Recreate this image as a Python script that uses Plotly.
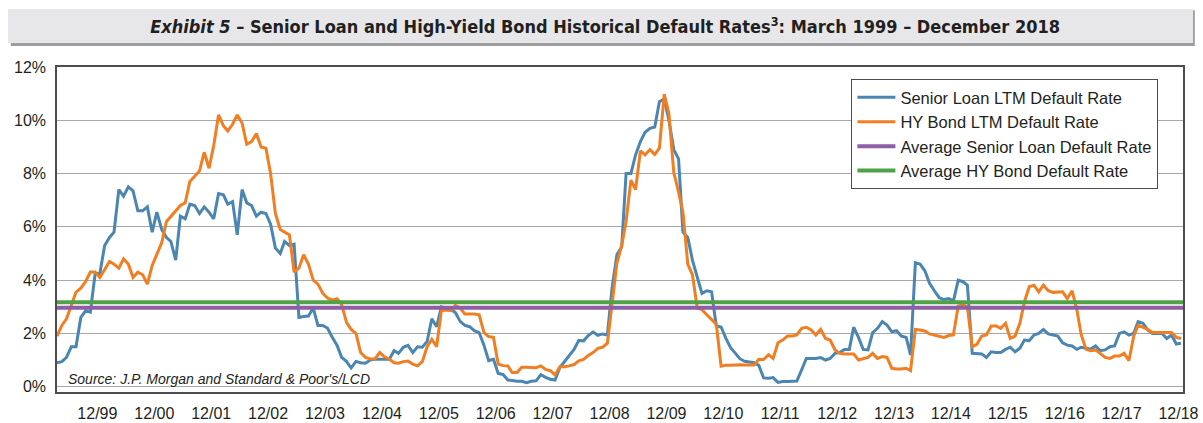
import pandas as pd
import plotly.graph_objects as go

# ---------------- data (monthly, Mar 1999 - Dec 2018), percent ----------------
start_month = "1999-03-01"
n_months = 238

senior_loan = [
    # 1999 (Mar-Dec)
    0.9, 0.94, 1.1, 1.5, 1.5, 2.6, 2.85, 2.8, 4.25, 4.25,
    # 2000
    5.3, 5.6, 5.8, 7.4, 7.15, 7.5, 7.35, 6.6, 6.6, 6.75, 5.8, 6.55,
    # 2001
    5.9, 5.6, 5.45, 4.75, 6.4, 6.3, 6.85, 6.8, 6.5, 6.75, 6.55, 6.3,
    # 2002
    7.25, 7.2, 6.85, 6.95, 5.7, 7.4, 6.9, 6.8, 6.4, 6.55, 6.5, 6.1,
    # 2003
    5.2, 5.0, 5.45, 5.3, 5.35, 2.6, 2.63, 2.65, 2.95, 2.3, 2.3, 2.2,
    # 2004
    1.85, 1.55, 1.1, 0.95, 0.7, 0.95, 0.9, 0.88, 1.0, 1.03, 1.03, 1.03,
    # 2005
    1.03, 1.35, 1.25, 1.48, 1.55, 1.28, 1.5, 1.48, 1.7, 2.55, 2.25, 3.0,
    # 2006
    2.95, 2.9, 2.78, 2.45, 2.3, 2.25, 2.1, 2.03, 1.55, 0.98, 1.03, 0.5,
    # 2007
    0.46, 0.25, 0.23, 0.2, 0.2, 0.15, 0.2, 0.22, 0.45, 0.35, 0.28, 0.25,
    # 2008
    0.72, 0.95, 1.15, 1.4, 1.73, 1.72, 1.92, 2.05, 1.93, 1.98, 1.94, 3.7,
    # 2009
    4.95, 5.25, 8.0, 8.0, 8.7, 9.2, 9.55, 9.7, 9.75, 10.7, 10.8, 10.0,
    # 2010
    8.9, 8.55, 5.8, 5.6, 4.75, 4.1, 3.5, 3.6, 3.56, 2.28, 2.24, 1.82,
    # 2011
    1.46, 1.25, 1.05, 0.95, 0.92, 0.9, 0.8, 0.33, 0.32, 0.34, 0.16, 0.19,
    # 2012
    0.19, 0.21, 0.21, 0.63, 1.06, 1.06, 1.06, 1.09, 1.0, 1.06, 1.25, 1.28,
    # 2013
    1.4, 1.4, 2.23, 1.85, 1.4, 1.38, 2.03, 2.19, 2.44, 2.31, 2.06, 2.1,
    # 2014
    1.9, 1.85, 1.19, 4.65, 4.6, 4.35, 3.88, 3.6, 3.34, 3.27, 3.31, 3.21,
    # 2015
    4.0, 3.94, 3.81, 1.25, 1.25, 1.23, 1.1, 1.31, 1.28, 1.28, 1.4, 1.48,
    # 2016
    1.31, 1.44, 1.75, 1.73, 1.94, 2.0, 2.15, 1.98, 1.94, 1.9, 1.65, 1.56,
    # 2017
    1.53, 1.4, 1.48, 1.44, 1.41, 1.53, 1.35, 1.38, 1.5, 1.53, 2.0, 2.06,
    # 2018
    1.94, 2.0, 2.44, 2.38, 2.13, 2.0, 2.0, 2.0, 1.81, 1.94, 1.6, 1.63,
]

hy_bond = [
    # 1999 (Mar-Dec)
    1.9, 2.3, 2.55, 3.05, 3.55, 3.7, 3.95, 4.3, 4.3, 4.1,
    # 2000
    4.4, 4.7, 4.6, 4.45, 4.8, 4.6, 4.1, 4.3, 4.2, 3.85, 4.55, 5.0,
    # 2001
    5.4, 6.2, 6.4, 6.6, 6.8, 6.9, 7.7, 7.9, 8.1, 8.8, 8.2, 9.05,
    # 2002
    10.2, 9.8, 9.6, 9.85, 10.2, 9.9, 9.1, 9.2, 9.5, 9.0, 8.95, 8.0,
    # 2003
    6.5, 5.9, 5.8, 5.7, 4.3, 4.45, 4.95, 4.6, 4.0, 3.85, 3.5, 3.33,
    # 2004
    3.25, 3.3, 3.08, 2.42, 2.15, 2.0, 1.28, 1.1, 1.04, 1.04, 1.28, 1.12,
    # 2005
    1.04, 0.9, 0.88, 0.94, 0.96, 0.85, 0.78, 0.94, 1.5, 1.78, 1.5, 2.85,
    # 2006
    2.88, 2.85, 3.05, 2.95, 2.73, 2.73, 2.73, 2.7, 2.03, 1.88, 1.85, 0.85,
    # 2007
    0.79, 0.78, 0.53, 0.53, 0.73, 0.73, 0.73, 0.71, 0.78, 0.65, 0.6, 0.44,
    # 2008
    0.75, 0.75, 0.78, 0.83, 0.97, 1.02, 1.17, 1.28, 1.44, 1.48, 1.63, 3.0,
    # 2009
    4.63, 5.3, 6.2, 7.75, 7.4, 8.85, 8.7, 8.9, 8.72, 8.95, 10.98, 10.25,
    # 2010
    8.05, 7.3, 6.55, 4.6, 4.2, 2.95, 2.89, 2.7, 2.52, 2.35, 0.77, 0.8,
    # 2011
    0.8, 0.82, 0.82, 0.81, 0.82, 0.81, 1.03, 1.02, 1.2, 1.06, 1.65, 1.75,
    # 2012
    1.9, 1.9, 1.94, 2.19, 2.23, 2.13, 1.94, 2.15, 1.81, 1.75, 1.38, 1.25,
    # 2013
    1.23, 1.23, 1.23, 1.0, 1.06, 1.1, 1.25, 1.06, 1.13, 1.1, 0.69, 0.66,
    # 2014
    0.66, 0.69, 0.6, 2.15, 2.13, 2.09, 1.98, 1.94, 1.88, 1.85, 1.92, 1.94,
    # 2015
    3.03, 3.06, 3.0, 1.5, 1.59, 1.9, 1.94, 2.28, 2.28, 2.19, 2.38, 1.81,
    # 2016
    1.9, 2.38, 3.19, 3.75, 3.81, 3.56, 3.81, 3.6, 3.54, 3.56, 3.56, 3.31,
    # 2017
    3.6, 2.88, 1.94, 1.4, 1.35, 1.38, 1.23, 1.1, 1.06, 1.15, 1.15, 1.25,
    # 2018
    0.98, 1.9, 2.31, 2.23, 2.15, 2.03, 2.03, 2.03, 2.03, 2.03, 1.85, 1.81,
]

avg_senior_loan = 2.96
avg_hy_bond = 3.17

tick_years = list(range(1999, 2019))
tick_labels = ["12/%02d" % (y % 100) for y in tick_years]
y_ticks = [0, 2, 4, 6, 8, 10, 12]
y_tick_labels = ["%d%%" % v for v in y_ticks]

# ---------------- figure ----------------
dates = pd.date_range(start_month, periods=n_months, freq="MS")
x_start = pd.Timestamp("1999-03-01")
x_end = pd.Timestamp("2018-12-14")

BLUE = "#4a86b1"
ORANGE = "#f07e22"
PURPLE = "#8e5ea7"
GREEN = "#50a247"
TEXT = "#231f20"
FONT = "Liberation Sans, Arial, sans-serif"

fig = go.Figure()
fig.add_trace(go.Scatter(x=dates, y=senior_loan, mode="lines",
                         name="Senior Loan LTM Default Rate",
                         line=dict(color=BLUE, width=3)))
fig.add_trace(go.Scatter(x=dates, y=hy_bond, mode="lines",
                         name="HY Bond LTM Default Rate",
                         line=dict(color=ORANGE, width=3)))
fig.add_trace(go.Scatter(x=[x_start, x_end], y=[avg_senior_loan] * 2, mode="lines",
                         name="Average Senior Loan Default Rate",
                         line=dict(color=PURPLE, width=4)))
fig.add_trace(go.Scatter(x=[x_start, x_end], y=[avg_hy_bond] * 2, mode="lines",
                         name="Average HY Bond Default Rate",
                         line=dict(color=GREEN, width=4)))

fig.update_layout(
    width=1203, height=423,
    margin=dict(l=57, r=20, t=67, b=31, autoexpand=False),
    paper_bgcolor="white", plot_bgcolor="white",
    font=dict(family=FONT, size=16, color=TEXT),
    showlegend=True,
    legend=dict(x=0.7055, y=0.963, xanchor="left", yanchor="top",
                bgcolor="white", bordercolor="#4d4d4d", borderwidth=1,
                font=dict(family=FONT, size=16.5, color=TEXT),
                itemwidth=38, tracegroupgap=0),
    title=dict(
        text="<b><i>Exhibit 5</i> – Senior Loan and High-Yield Bond Historical Default Rates<sup>3</sup>: March 1999 – December 2018</b>",
        x=0.503, y=0.936, xanchor="center", yanchor="middle",
        font=dict(family="Liberation Sans Narrow, DejaVu Sans Condensed, Liberation Sans, sans-serif", size=18, color=TEXT)),
    xaxis=dict(
        type="date", range=[x_start, x_end], automargin=False,
        tickvals=[pd.Timestamp("%d-11-15" % y) for y in tick_years],
        ticktext=tick_labels, ticks="", showgrid=False,
        showline=True, mirror=True, linecolor="#4d4d4d", linewidth=1.5,
        tickfont=dict(size=16, color=TEXT), ticklabelstandoff=6,
        zeroline=False, fixedrange=True),
    yaxis=dict(
        range=[-0.2, 12], tickvals=y_ticks, ticktext=y_tick_labels, automargin=False,
        ticks="", showgrid=True, gridcolor="#a8a8a8", gridwidth=1,
        showline=True, mirror=True, linecolor="#4d4d4d", linewidth=1.5,
        tickfont=dict(size=16, color=TEXT), ticklabelstandoff=6,
        zeroline=False, fixedrange=True),
    shapes=[
        # title bar shadow and bar
        dict(type="rect", xref="paper", yref="paper", layer="below",
             x0=-0.041, x1=1.0105, y0=1.065, y1=1.175,
             fillcolor="#9d9d9f", line=dict(width=0)),
        dict(type="rect", xref="paper", yref="paper", layer="below",
             x0=-0.0435, x1=1.0089, y0=1.0735, y1=1.1785,
             fillcolor="#e7e7e9", line=dict(width=0)),
    ],
    annotations=[
        dict(text="<i>Source: J.P. Morgan and Standard & Poor's/LCD</i>",
             xref="paper", yref="paper", x=0.008, y=0.04,
             xanchor="left", yanchor="middle", showarrow=False,
             font=dict(family=FONT, size=14, color=TEXT)),
    ],
)

fig.write_html(
    "out.html",
    config={"displayModeBar": False},
    post_script="document.body.style.margin='0';document.body.style.overflow='hidden';",
)
